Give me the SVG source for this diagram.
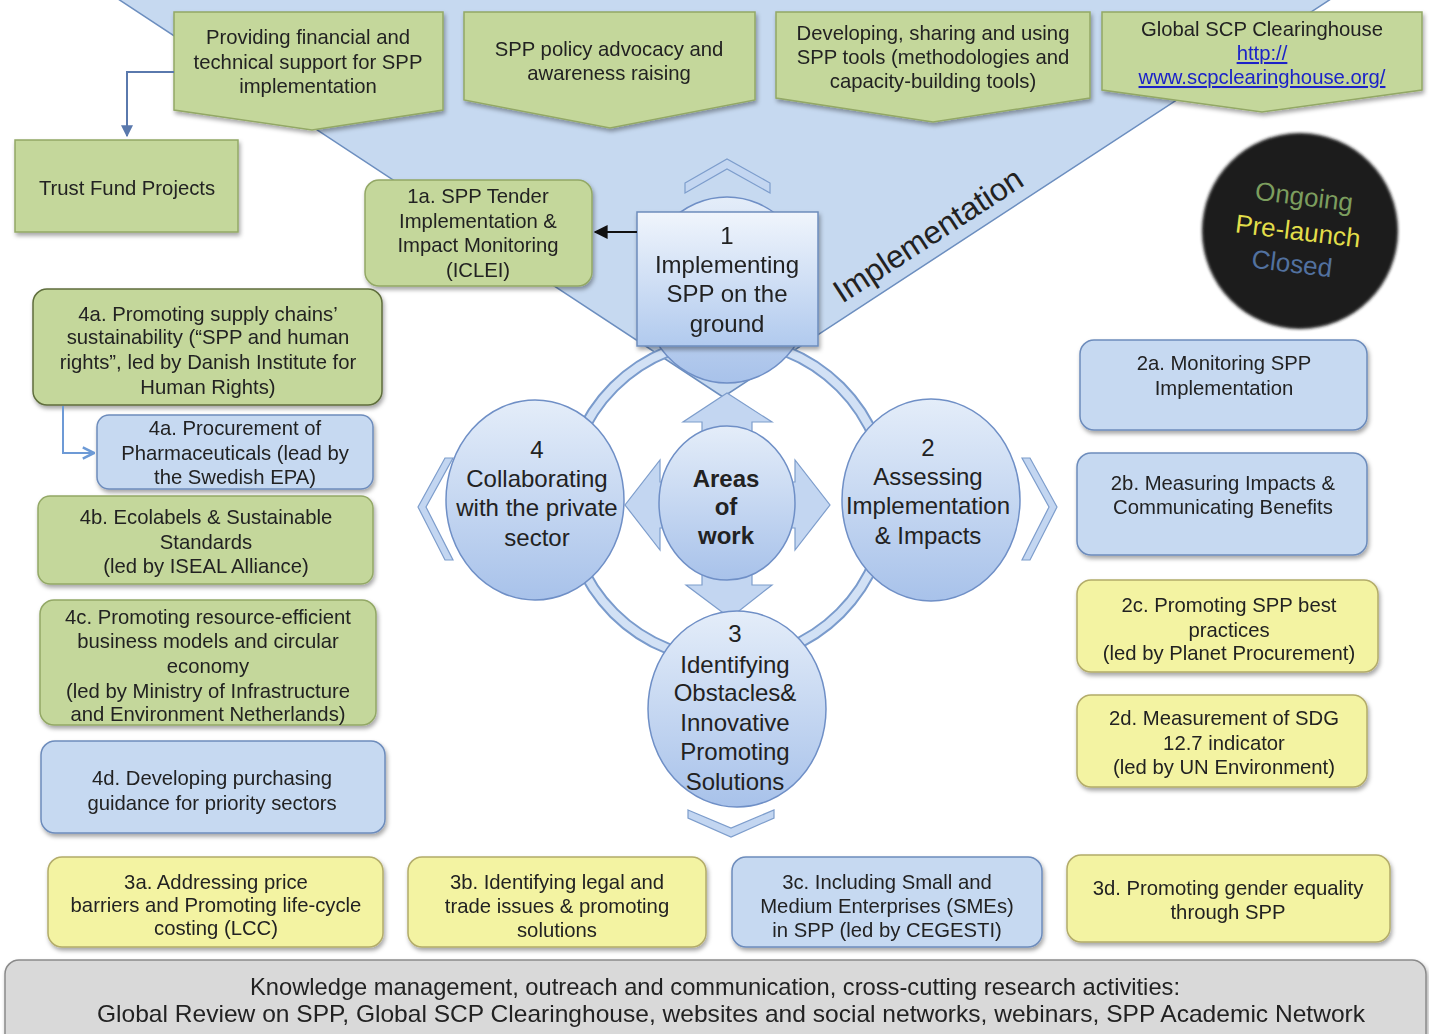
<svg xmlns="http://www.w3.org/2000/svg" width="1429" height="1034" viewBox="0 0 1429 1034">
<defs>
<style>
text{font-family:"Liberation Sans",Arial,sans-serif;fill:#222;text-anchor:middle}
.t19{font-size:20.3px}
.t24{font-size:24px}
.green{fill:#c4d79b;stroke:#93a866;stroke-width:1.5}
.green2{fill:#c4d79b;stroke:#5f6e3c;stroke-width:1.5}
.blue{fill:#c6d9f1;stroke:#6d8cbc;stroke-width:1.5}
.yellow{fill:#f3f3a2;stroke:#b3ac6a;stroke-width:1.5}
.ell{fill:url(#gEll);stroke:#6f8fc6;stroke-width:1.5}
.arr{fill:#c3d6f1;stroke:#7d9dcc;stroke-width:1.2}
.link{color:#1a22c8;fill:#1a22c8;text-decoration:underline}
</style>
<linearGradient id="gEll" x1="0" y1="0" x2="0" y2="1">
<stop offset="0" stop-color="#e4edf9"/>
<stop offset="1" stop-color="#a8c2ea"/>
</linearGradient>
<linearGradient id="gBox" x1="0" y1="0" x2="0" y2="1">
<stop offset="0" stop-color="#f0f5fc"/>
<stop offset="1" stop-color="#b1caee"/>
</linearGradient>
<filter id="sh" x="-10%" y="-10%" width="130%" height="140%">
<feDropShadow dx="1.5" dy="3" stdDeviation="2" flood-color="#000" flood-opacity="0.35"/>
</filter>
<filter id="blur" x="-10%" y="-10%" width="120%" height="120%">
<feGaussianBlur stdDeviation="1.5"/>
</filter>
<marker id="mBlack" viewBox="0 0 10 10" refX="9" refY="5" markerWidth="7" markerHeight="7" orient="auto-start-reverse">
<path d="M0,0 L10,5 L0,10 Z" fill="#111"/>
</marker>
<marker id="mBlue" viewBox="0 0 10 10" refX="9" refY="5" markerWidth="6" markerHeight="6" orient="auto">
<path d="M0,0 L10,5 L0,10 Z" fill="#5a79ad"/>
</marker>
<marker id="mOpen" viewBox="0 0 10 10" refX="9" refY="5" markerWidth="7" markerHeight="7" orient="auto">
<path d="M1,1 L9,5 L1,9" fill="none" stroke="#6d9ad6" stroke-width="1.8"/>
</marker>
</defs>

<rect width="1429" height="1034" fill="#fff"/>

<g id="funnel">
<polygon points="112,-5 1337,-5 723,397" fill="#c6d9f0" stroke="#6c8ebf" stroke-width="1.5"/>
<text x="928" y="246" font-size="32" transform="rotate(-33 928 235)">Implementation</text>
</g>

<g id="top-financial" filter="url(#sh)">
<path class="green" d="M174,12 H443 V110 L312,130 L174,110 Z"/>
<text class="t19"><tspan x="308" y="44">Providing financial and</tspan><tspan x="308" y="69">technical support for SPP</tspan><tspan x="308" y="93">implementation</tspan></text>
</g>
<g id="top-advocacy" filter="url(#sh)">
<path class="green" d="M464,12 H755 V100 L610,128 L464,100 Z"/>
<text class="t19"><tspan x="609" y="56">SPP policy advocacy and</tspan><tspan x="609" y="80">awareness raising</tspan></text>
</g>
<g id="top-tools" filter="url(#sh)">
<path class="green" d="M776,12 H1090 V98 L933,122 L776,98 Z"/>
<text class="t19"><tspan x="933" y="40">Developing, sharing and using</tspan><tspan x="933" y="64">SPP tools (methodologies and</tspan><tspan x="933" y="88">capacity-building tools)</tspan></text>
</g>
<g id="top-clearinghouse" filter="url(#sh)">
<path class="green" d="M1102,12 H1422 V90 L1262,112 L1102,90 Z"/>
<text class="t19"><tspan x="1262" y="36">Global SCP Clearinghouse</tspan><tspan class="link" x="1262" y="60">http://</tspan><tspan class="link" x="1262" y="84">www.scpclearinghouse.org/</tspan></text>
</g>

<g id="trust-fund" filter="url(#sh)">
<rect class="green" x="15" y="140" width="223" height="92"/>
<text class="t19" x="127" y="195">Trust Fund Projects</text>
</g>

<g id="box-1a" filter="url(#sh)">
<rect class="green" x="365" y="180" width="227" height="106" rx="14"/>
<text class="t19"><tspan x="478" y="203">1a. SPP Tender</tspan><tspan x="478" y="228">Implementation &amp;</tspan><tspan x="478" y="252">Impact Monitoring</tspan><tspan x="478" y="277">(ICLEI)</tspan></text>
</g>

<g id="legend">
<circle cx="1300" cy="231" r="98" fill="#1b1b1b" filter="url(#blur)"/>
<g transform="rotate(7 1298 231)" font-size="26">
<text x="1300" y="205" style="fill:#7c9e5e">Ongoing</text>
<text x="1298" y="240" style="fill:#e2de4a">Pre-launch</text>
<text x="1296" y="273" style="fill:#52719f">Closed</text>
</g>
</g>

<g id="ring">
<circle cx="727" cy="500" r="160" fill="none" stroke="#7a9bcc" stroke-width="12"/>
<circle cx="727" cy="500" r="160" fill="none" stroke="#d2e1f5" stroke-width="8"/>
</g>

<g id="chevrons">
<polygon class="arr" points="685,183 727,159 770,183 770,193 727,169 685,193"/>
<polygon class="arr" points="688,810 731,828 774,810 774,818 731,837 688,818"/>
<polygon class="arr" points="445,458 453,458 426,507 453,560 445,560 418,507"/>
<polygon class="arr" points="1022,458 1030,458 1057,507 1030,560 1022,560 1049,507"/>
</g>

<g id="circle-1">
<ellipse class="ell" cx="727" cy="290" rx="85" ry="93"/>
</g>
<g id="box-1" filter="url(#sh)">
<rect x="637" y="212" width="181" height="134" fill="url(#gBox)" stroke="#6d8cbc" stroke-width="1.5"/>
<text class="t24"><tspan x="727" y="244">1</tspan><tspan x="727" y="273">Implementing</tspan><tspan x="727" y="302">SPP on the</tspan><tspan x="727" y="332">ground</tspan></text>
</g>

<g id="center-arrows">
<path class="arr" d="M702,440 V422 H683 L727,393 L772,422 H752 V440 Z"/>
<path class="arr" d="M702,565 V585 H686 L730,618 L772,585 H752 V565 Z"/>
<path class="arr" d="M680,482 H660 V460 L625,505 L660,550 V528 H680 Z"/>
<path class="arr" d="M775,482 H795 V460 L830,505 L795,550 V528 H775 Z"/>
</g>

<g id="circle-4">
<ellipse class="ell" cx="535" cy="500" rx="89" ry="100"/>
<text class="t24"><tspan x="537" y="458">4</tspan><tspan x="537" y="487">Collaborating</tspan><tspan x="537" y="516">with the private</tspan><tspan x="537" y="546">sector</tspan></text>
</g>
<g id="circle-2">
<ellipse class="ell" cx="931" cy="500" rx="89" ry="101"/>
<text class="t24"><tspan x="928" y="456">2</tspan><tspan x="928" y="485">Assessing</tspan><tspan x="928" y="514">Implementation</tspan><tspan x="928" y="544">&amp; Impacts</tspan></text>
</g>
<g id="center">
<ellipse class="ell" cx="727" cy="503" rx="68" ry="77"/>
<text class="t24" font-weight="bold"><tspan x="726" y="487">Areas</tspan><tspan x="726" y="515">of</tspan><tspan x="726" y="544">work</tspan></text>
</g>
<g id="circle-3">
<ellipse class="ell" cx="737" cy="709" rx="89" ry="98"/>
<text class="t24"><tspan x="735" y="642">3</tspan><tspan x="735" y="673">Identifying</tspan><tspan x="735" y="701">Obstacles&amp;</tspan><tspan x="735" y="731">Innovative</tspan><tspan x="735" y="760">Promoting</tspan><tspan x="735" y="790">Solutions</tspan></text>
</g>

<g id="box-4a" filter="url(#sh)">
<rect class="green2" x="33" y="289" width="349" height="116" rx="14"/>
<text class="t19"><tspan x="208" y="321">4a. Promoting supply chains’</tspan><tspan x="208" y="344">sustainability (“SPP and human</tspan><tspan x="208" y="369">rights”, led by Danish Institute for</tspan><tspan x="208" y="394">Human Rights)</tspan></text>
</g>
<g id="box-4a-pharma" filter="url(#sh)">
<rect class="blue" x="97" y="415" width="276" height="74" rx="12"/>
<text class="t19"><tspan x="235" y="435">4a. Procurement of</tspan><tspan x="235" y="460">Pharmaceuticals (lead by</tspan><tspan x="235" y="484">the Swedish EPA)</tspan></text>
</g>
<g id="box-4b" filter="url(#sh)">
<rect class="green" x="38" y="496" width="335" height="88" rx="12"/>
<text class="t19"><tspan x="206" y="524">4b. Ecolabels &amp; Sustainable</tspan><tspan x="206" y="549">Standards</tspan><tspan x="206" y="573">(led by ISEAL Alliance)</tspan></text>
</g>
<g id="box-4c" filter="url(#sh)">
<rect class="green" x="40" y="600" width="336" height="125" rx="14"/>
<text class="t19"><tspan x="208" y="624">4c. Promoting resource-efficient</tspan><tspan x="208" y="648">business models and circular</tspan><tspan x="208" y="673">economy</tspan><tspan x="208" y="698">(led by Ministry of Infrastructure</tspan><tspan x="208" y="721">and Environment Netherlands)</tspan></text>
</g>
<g id="box-4d" filter="url(#sh)">
<rect class="blue" x="41" y="741" width="344" height="92" rx="14"/>
<text class="t19"><tspan x="212" y="785">4d. Developing purchasing</tspan><tspan x="212" y="810">guidance for priority sectors</tspan></text>
</g>

<g id="box-2a" filter="url(#sh)">
<rect class="blue" x="1080" y="340" width="287" height="90" rx="14"/>
<text class="t19"><tspan x="1224" y="370">2a. Monitoring SPP</tspan><tspan x="1224" y="395">Implementation</tspan></text>
</g>
<g id="box-2b" filter="url(#sh)">
<rect class="blue" x="1077" y="453" width="290" height="102" rx="14"/>
<text class="t19"><tspan x="1223" y="490">2b. Measuring Impacts &amp;</tspan><tspan x="1223" y="514">Communicating Benefits</tspan></text>
</g>
<g id="box-2c" filter="url(#sh)">
<rect class="yellow" x="1077" y="580" width="301" height="92" rx="14"/>
<text class="t19"><tspan x="1229" y="612">2c. Promoting SPP best</tspan><tspan x="1229" y="637">practices</tspan><tspan x="1229" y="660">(led by Planet Procurement)</tspan></text>
</g>
<g id="box-2d" filter="url(#sh)">
<rect class="yellow" x="1077" y="695" width="290" height="92" rx="14"/>
<text class="t19"><tspan x="1224" y="725">2d. Measurement of SDG</tspan><tspan x="1224" y="750">12.7 indicator</tspan><tspan x="1224" y="774">(led by UN Environment)</tspan></text>
</g>

<g id="box-3a" filter="url(#sh)">
<rect class="yellow" x="48" y="857" width="335" height="90" rx="14"/>
<text class="t19"><tspan x="216" y="889">3a. Addressing price</tspan><tspan x="216" y="912">barriers and Promoting life-cycle</tspan><tspan x="216" y="935">costing (LCC)</tspan></text>
</g>
<g id="box-3b" filter="url(#sh)">
<rect class="yellow" x="408" y="857" width="298" height="90" rx="14"/>
<text class="t19"><tspan x="557" y="889">3b. Identifying legal and</tspan><tspan x="557" y="913">trade issues &amp; promoting</tspan><tspan x="557" y="937">solutions</tspan></text>
</g>
<g id="box-3c" filter="url(#sh)">
<rect class="blue" x="732" y="857" width="310" height="90" rx="14"/>
<text class="t19"><tspan x="887" y="889">3c. Including Small and</tspan><tspan x="887" y="913">Medium Enterprises (SMEs)</tspan><tspan x="887" y="937">in SPP (led by CEGESTI)</tspan></text>
</g>
<g id="box-3d" filter="url(#sh)">
<rect class="yellow" x="1067" y="855" width="323" height="87" rx="14"/>
<text class="t19"><tspan x="1228" y="895">3d. Promoting gender equality</tspan><tspan x="1228" y="919">through SPP</tspan></text>
</g>

<g id="knowledge" filter="url(#sh)">
<rect x="5" y="960" width="1421" height="90" rx="14" fill="#d9d9d9" stroke="#8a8a8a" stroke-width="1.5"/>
<text font-size="24"><tspan x="715" y="995" textLength="930" lengthAdjust="spacingAndGlyphs">Knowledge management, outreach and communication, cross-cutting research activities:</tspan><tspan x="731" y="1022" textLength="1268" lengthAdjust="spacingAndGlyphs">Global Review on SPP, Global SCP Clearinghouse, websites and social networks, webinars, SPP Academic Network</tspan></text>
</g>

<g id="connectors" fill="none">
<line x1="637" y1="232" x2="595" y2="232" stroke="#111" stroke-width="2" marker-end="url(#mBlack)"/>
<path d="M174,72 H127 V136" stroke="#5a79ad" stroke-width="2" marker-end="url(#mBlue)"/>
<path d="M63,406 V453 H94" stroke="#6d9ad6" stroke-width="2" marker-end="url(#mOpen)"/>
</g>
</svg>
